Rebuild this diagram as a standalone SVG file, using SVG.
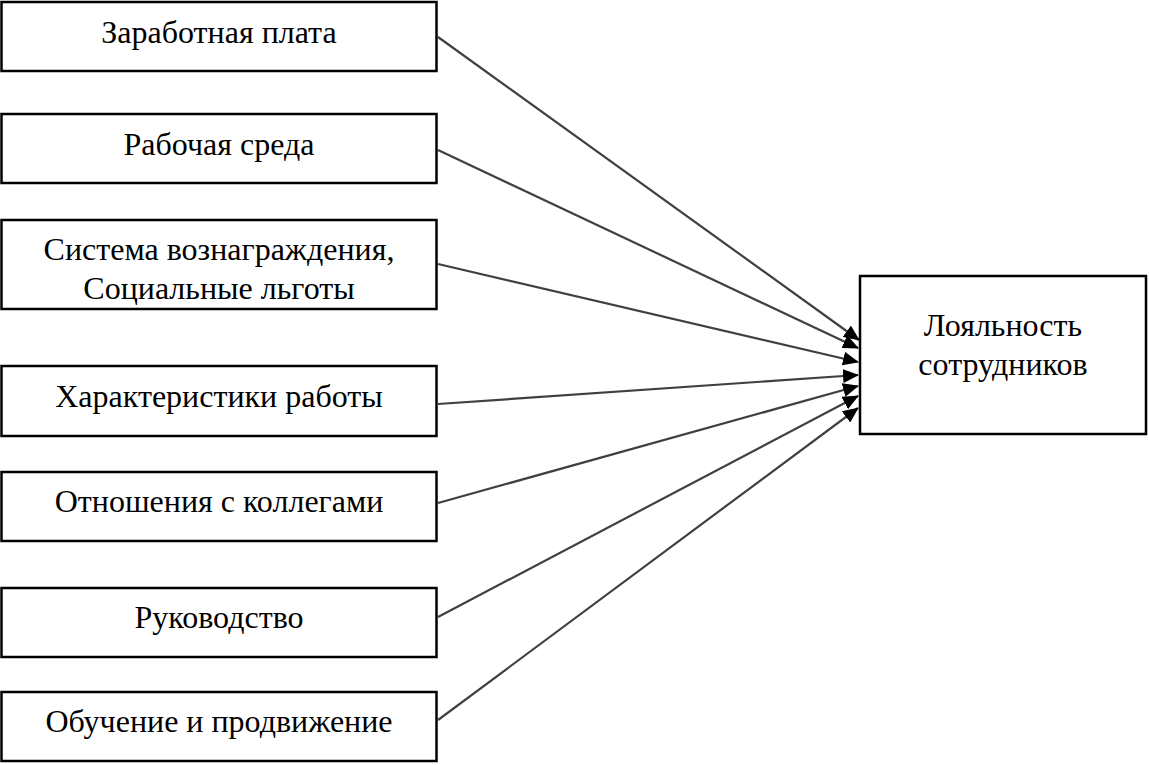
<svg xmlns="http://www.w3.org/2000/svg" width="1149" height="765" viewBox="0 0 1149 765">
<style>
.box{fill:#fff;stroke:#000;stroke-width:2.5}
.t{font-family:"Liberation Serif","Times New Roman",serif;font-size:32px;fill:#000;text-anchor:middle}
.c{stroke:#404040;stroke-width:2.2;fill:none;marker-end:url(#ah)}
</style>
<defs>
<marker id="ah" markerWidth="16" markerHeight="14" refX="15" refY="7" orient="auto" markerUnits="userSpaceOnUse" viewBox="0 0 16 14">
<path d="M0,0 L16,7 L0,14 z" fill="#000"/>
</marker>
</defs>
<rect width="1149" height="765" fill="#fff"/>
<g id="connectors">
<line class="c" x1="438" y1="37" x2="859" y2="340"/>
<line class="c" x1="438" y1="150" x2="858" y2="348"/>
<line class="c" x1="438" y1="264" x2="858" y2="362"/>
<line class="c" x1="438" y1="404" x2="858" y2="375"/>
<line class="c" x1="438" y1="503" x2="858" y2="386"/>
<line class="c" x1="438" y1="617" x2="858" y2="396"/>
<line class="c" x1="438" y1="720" x2="858" y2="408"/>
</g>
<g id="n1"><rect class="box" x="1.5" y="2" width="435" height="69"/><text class="t" x="219" y="43">Заработная плата</text></g>
<g id="n2"><rect class="box" x="1.5" y="114" width="435" height="69"/><text class="t" x="219" y="155">Рабочая среда</text></g>
<g id="n3"><rect class="box" x="1.5" y="220" width="435" height="89"/><text class="t" x="219" y="260">Система вознаграждения,</text><text class="t" x="219" y="299">Социальные льготы</text></g>
<g id="n4"><rect class="box" x="1.5" y="366" width="435" height="70"/><text class="t" x="219" y="407">Характеристики работы</text></g>
<g id="n5"><rect class="box" x="1.5" y="472" width="435" height="69"/><text class="t" x="219" y="512">Отношения с коллегами</text></g>
<g id="n6"><rect class="box" x="1.5" y="588" width="435" height="69"/><text class="t" x="219" y="628">Руководство</text></g>
<g id="n7"><rect class="box" x="1.5" y="692" width="435" height="69"/><text class="t" x="219" y="732">Обучение и продвижение</text></g>
<g id="target"><rect class="box" x="860" y="276" width="286" height="158"/><text class="t" x="1003" y="336">Лояльность</text><text class="t" x="1003" y="375">сотрудников</text></g>
</svg>
